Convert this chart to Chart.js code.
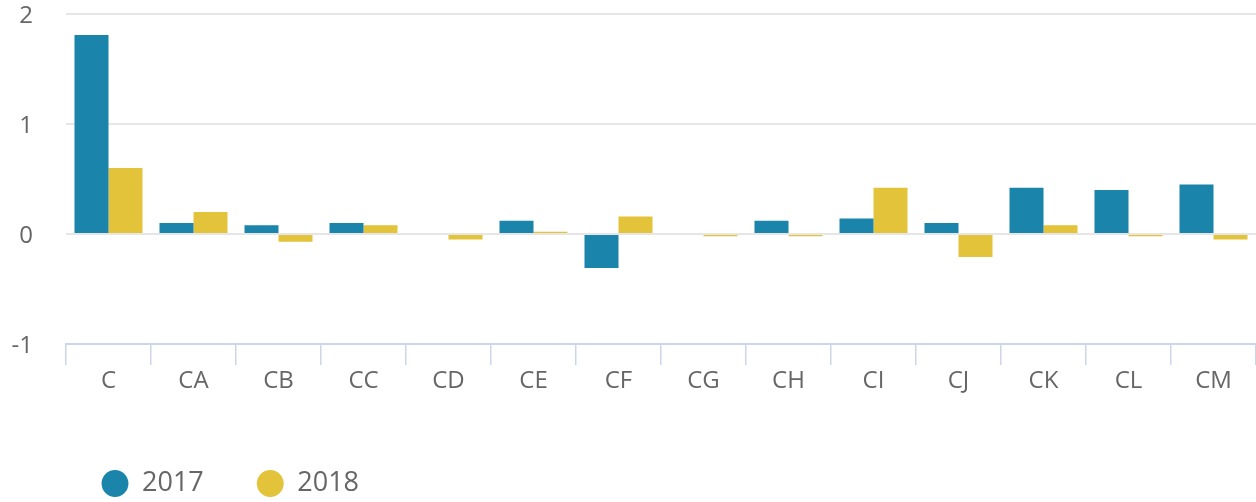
<!DOCTYPE html>
<html>
<head>
<meta charset="utf-8">
<script src="https://cdn.jsdelivr.net/npm/chart.js@4"></script>
<style>
  html, body { margin: 0; padding: 0; background: #ffffff; }
  #wrap { width: 1256px; height: 502px; position: relative; }
</style>
</head>
<body>
<div id="wrap"><canvas id="c"></canvas></div>
<script>
const categories = ["C", "CA", "CB", "CC", "CD", "CE", "CF", "CG", "CH", "CI", "CJ", "CK", "CL", "CM"];
const values2017 = [1.81, 0.10, 0.08, 0.10, 0, 0.12, -0.31, 0, 0.12, 0.14, 0.10, 0.42, 0.40, 0.45];
const values2018 = [0.60, 0.20, -0.07, 0.08, -0.05, 0.02, 0.16, -0.02, -0.02, 0.42, -0.21, 0.08, -0.02, -0.05];
const seriesNames = ["2017", "2018"];
const yTicks = [-1, 0, 1, 2];

const BLUE = "#1a84ab";
const YELLOW = "#e3c33a";
const TEXT = "#666666";

const legendPlacer = {
  id: "legendPlacer",
  afterLayout(chart) {
    const lg = chart.legend;
    if (!lg) return;
    const dx = 48.5 - lg.left;
    const dy = 417 - lg.top;
    lg.left += dx; lg.right += dx;
    lg.top += dy; lg.bottom += dy;
  }
};

new Chart(document.getElementById("c"), {
  type: "bar",
  data: {
    labels: categories,
    datasets: [
      { label: seriesNames[0], data: values2017, backgroundColor: BLUE, borderWidth: 0 },
      { label: seriesNames[1], data: values2018, backgroundColor: YELLOW, borderWidth: 0 }
    ]
  },
  options: {
    responsive: true,
    maintainAspectRatio: false,
    animation: false,
    devicePixelRatio: 1,
    layout: { padding: { top: 14, right: 0, bottom: 0, left: 0 } },
    datasets: { bar: { categoryPercentage: 0.8, barPercentage: 1.0 } },
    plugins: {
      tooltip: { enabled: false },
      legend: {
        position: "bottom",
        align: "start",
        labels: {
          usePointStyle: true,
          pointStyle: "circle",
          boxHeight: 19,
          boxWidth: 27,
          padding: 53,
          color: TEXT,
          font: { family: "'Open Sans', sans-serif", size: 27 }
        }
      }
    },
    scales: {
      x: {
        afterFit(scale) { scale.height = 68; },
        grid: {
          offset: true,
          drawOnChartArea: false,
          drawTicks: true,
          tickLength: 21,
          color: "#ccd6eb",
          lineWidth: 1.5
        },
        border: { display: true, color: "#ccd6eb", width: 2 },
        ticks: {
          color: TEXT,
          padding: 2,
          font: { family: "'Open Sans', sans-serif", size: 24 }
        }
      },
      y: {
        min: yTicks[0],
        max: yTicks[yTicks.length - 1],
        afterFit(scale) { scale.width = 66; },
        afterBuildTicks(scale) { scale.ticks = yTicks.map(v => ({ value: v })); },
        grid: {
          color: (ctx) => ctx.tick && ctx.tick.value === -1 ? "rgba(0,0,0,0)" : "#e6e6e6",
          lineWidth: 2,
          drawTicks: true,
          tickLength: 31,
          tickColor: "rgba(0,0,0,0)"
        },
        border: { display: false },
        ticks: {
          color: TEXT,
          padding: 2,
          labelOffset: 2,
          font: { family: "'Open Sans', sans-serif", size: 24, lineHeight: 1 },
          callback: (v) => String(v)
        }
      }
    }
  },
  plugins: [legendPlacer]
});
</script>
</body>
</html>
